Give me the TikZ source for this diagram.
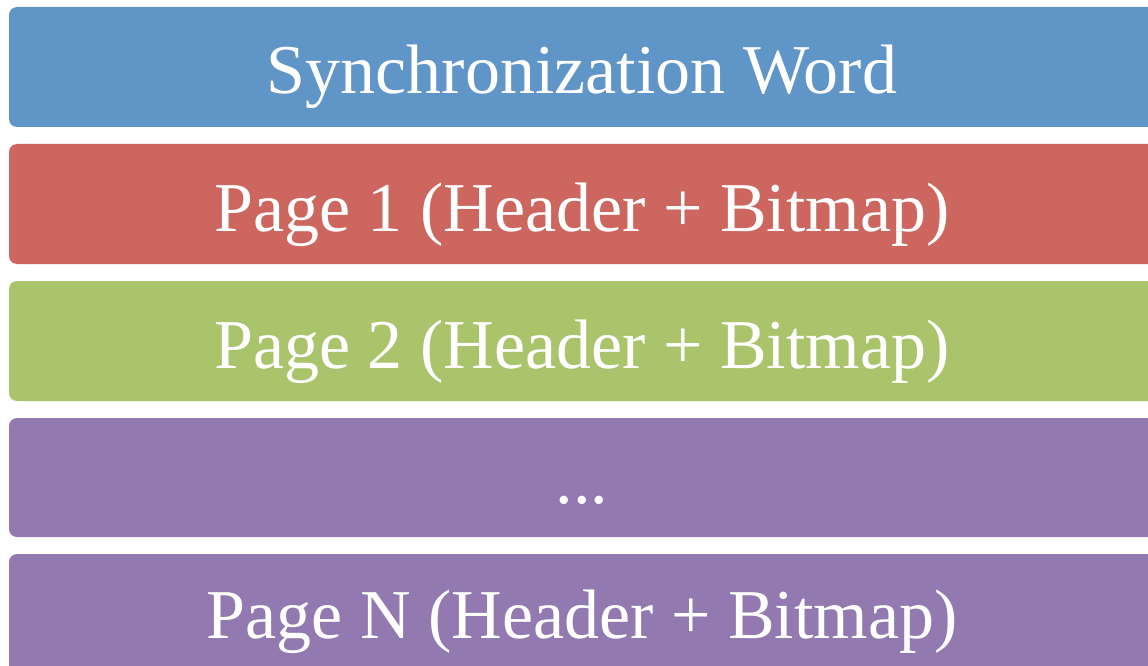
\documentclass[tikz,border=0pt]{standalone}
\usepackage{fontspec}
\setmainfont{Liberation Serif}
\definecolor{cblue}{RGB}{96,149,200}
\definecolor{cred}{RGB}{204,102,94}
\definecolor{cgreen}{RGB}{170,196,107}
\definecolor{cpurple}{RGB}{146,122,176}
\tikzset{
  bar/.style={fill=#1, draw=none, rounded corners=8pt},
  lbl/.style={text=white, font=\fontsize{70}{84}\selectfont, anchor=base, inner sep=0pt}
}
\begin{document}
\begin{tikzpicture}[x=1pt,y=-1pt]
\useasboundingbox (0,0) rectangle (1148,666);
\clip (0,0) rectangle (1148,666);
\path[bar=cblue]   (9,7)   rectangle (1170,127);
\path[bar=cred]    (9,144) rectangle (1170,264);
\path[bar=cgreen]  (9,281) rectangle (1170,401);
\path[bar=cpurple] (9,418) rectangle (1170,537);
\path[bar=cpurple] (9,554) rectangle (1170,700);
\node[lbl] (t1) at (582,94)  {Synchronization Word};
\node[lbl] (t2) at (582,231) {Page 1 (Header + Bitmap)};
\node[lbl] (t3) at (582,368) {Page 2 (Header + Bitmap)};
\node[lbl] (t4) at (582,503) {...};
\node[lbl] (t5) at (582,638) {Page N (Header + Bitmap)};
\end{tikzpicture}
\end{document}
